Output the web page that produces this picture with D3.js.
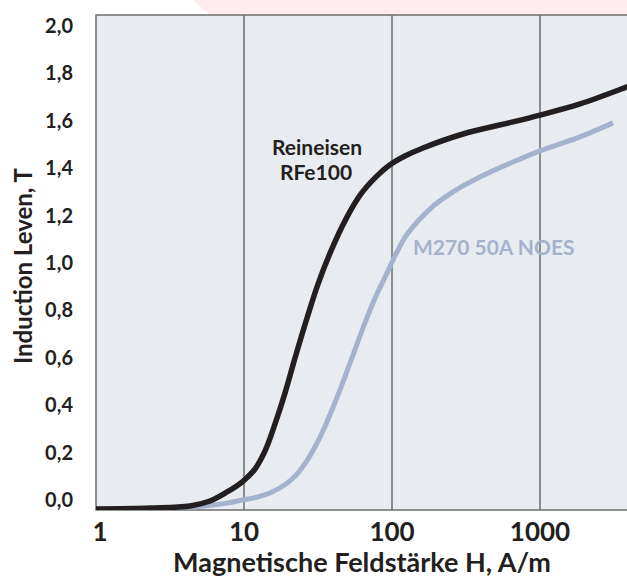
<!DOCTYPE html>
<html>
<meta charset='utf-8'>
<head>
<title>B-H curves</title>
<script src='https://d3js.org/d3.v7.min.js'></script>
<style>
  body { margin: 0; background: #fff; }
  text { font-family: Lato, 'Noto Sans', sans-serif; font-weight: bold; fill: #231f20; }
</style>
</head>

<body>
<div id='my_dataviz'></div>
<script>
// field strength H (A/m) and induction B (T)
var rfeH = [1, 2.32, 4.32, 5.89, 7.68, 9.69, 11.87, 13.87, 16.2, 18.92, 22.11, 26.66, 31.62, 38.71, 48.9, 61.72, 77.97, 96.9, 122.4, 162, 301.8, 657, 1000, 1864, 3870, 5535]
var rfeB = [-0.038, -0.034, -0.025, -0.004, 0.034, 0.076, 0.131, 0.207, 0.321, 0.451, 0.599, 0.768, 0.911, 1.051, 1.186, 1.291, 1.363, 1.414, 1.451, 1.485, 1.544, 1.595, 1.624, 1.671, 1.743, 1.781]
var noesH = [1, 2.71, 5.04, 7.68, 9.69, 12.43, 15.46, 19.22, 22.46, 26.24, 30.66, 35.83, 41.84, 48.9, 57.12, 66.74, 77.97, 91.1, 106.4, 124.3, 149.9, 186.4, 235.3, 301.8, 393.1, 657, 1000, 1864, 3113]
var noesB = [-0.04, -0.036, -0.027, -0.013, 0.0, 0.013, 0.034, 0.068, 0.105, 0.16, 0.232, 0.321, 0.422, 0.532, 0.646, 0.759, 0.861, 0.949, 1.038, 1.114, 1.177, 1.236, 1.283, 1.325, 1.363, 1.426, 1.473, 1.532, 1.591]
var xTicks = [1, 10, 100, 1000]
var yTicks = [0, 0.2, 0.4, 0.6, 0.8, 1.0, 1.2, 1.4, 1.6, 1.8, 2.0]

var width = 627, height = 581
var plot = {left: 96, top: 15, right: 640, bottom: 510}

var svg = d3.select('#my_dataviz')
  .append('svg')
    .attr('width', width)
    .attr('height', height)

// pale decoration above the plot
svg.append('polygon')
  .attr('points', '193,0 210,15 627,15 627,0')
  .attr('fill', '#fdedef')

var x = d3.scaleLog()
  .domain([1, Math.pow(10, (plot.right - plot.left) / 148)])
  .range([plot.left, plot.right])
var y = d3.scaleLinear()
  .domain([-0.042, 2.046])
  .range([plot.bottom, plot.top])

svg.append('rect')
  .attr('x', plot.left)
  .attr('y', plot.top)
  .attr('width', plot.right - plot.left)
  .attr('height', plot.bottom - plot.top)
  .attr('fill', '#e8ebf0')
  .attr('stroke', '#6e6e6e')
  .attr('stroke-width', 1.5)

svg.append('defs').append('clipPath')
  .attr('id', 'clip')
  .append('rect')
    .attr('x', plot.left)
    .attr('y', plot.top)
    .attr('width', plot.right - plot.left)
    .attr('height', plot.bottom - plot.top)

svg.append('g')
  .selectAll('line')
  .data(xTicks.slice(1))
  .enter()
  .append('line')
    .attr('x1', function(d) { return x(d) })
    .attr('x2', function(d) { return x(d) })
    .attr('y1', plot.top)
    .attr('y2', plot.bottom)
    .attr('stroke', '#6e6e6e')
    .attr('stroke-width', 1.5)

var line = d3.line()
  .x(function(d) { return x(d[0]) })
  .y(function(d) { return y(d[1]) })
  .curve(d3.curveCatmullRom.alpha(0.5))

var lines = svg.append('g').attr('clip-path', 'url(#clip)')
lines.append('path')
  .datum(d3.zip(noesH, noesB))
  .attr('d', line)
  .attr('fill', 'none')
  .attr('stroke', '#a4b3cb')
  .attr('stroke-width', 5)
lines.append('path')
  .datum(d3.zip(rfeH, rfeB))
  .attr('d', line)
  .attr('fill', 'none')
  .attr('stroke', '#231f20')
  .attr('stroke-width', 5.5)

// tick labels
svg.append('g')
  .selectAll('text')
  .data(yTicks)
  .enter()
  .append('text')
    .attr('x', 73)
    .attr('y', function(d) { return y(d) + 7 })
    .attr('text-anchor', 'end')
    .style('font-size', '20px')
    .text(function(d) { return d3.format('.1f')(d).replace('.', ',') })

svg.append('g')
  .selectAll('text')
  .data(xTicks)
  .enter()
  .append('text')
    .attr('x', function(d) { return d == 1 ? x(d) + 4 : x(d) })
    .attr('y', 541)
    .attr('text-anchor', 'middle')
    .style('font-size', '26px')
    .text(function(d) { return d })

// axis titles
svg.append('text')
  .attr('x', 362)
  .attr('y', 572)
  .attr('text-anchor', 'middle')
  .style('font-size', '27px')
  .text('Magnetische Feldstärke H, A/m')

svg.append('text')
  .attr('transform', 'translate(32,266) rotate(-90)')
  .attr('text-anchor', 'middle')
  .style('font-size', '24px')
  .text('Induction Leven, T')

// series labels
svg.append('text')
  .attr('x', 317)
  .attr('y', 155)
  .attr('text-anchor', 'middle')
  .style('font-size', '21px')
  .text('Reineisen')
svg.append('text')
  .attr('x', 316)
  .attr('y', 180)
  .attr('text-anchor', 'middle')
  .style('font-size', '21px')
  .text('RFe100')
svg.append('text')
  .attr('x', 413)
  .attr('y', 255)
  .style('font-size', '21px')
  .style('fill', '#a4b3cb')
  .text('M270 50A NOES')
</script>
</html>
